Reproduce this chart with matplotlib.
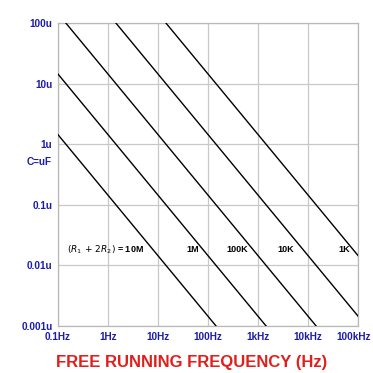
import matplotlib
matplotlib.use("Agg")
import matplotlib.pyplot as plt
import matplotlib.transforms as mtransforms

# Data: each line's endpoints (frequency Hz, capacitance uF)
series_labels = ["10M", "1M", "100K", "10K", "1K"]
freq_start = [0.1, 0.1, 0.144, 1.44, 14.4]
cap_start = [1.44, 14.4, 100.0, 100.0, 100.0]
freq_end = [144.0, 1440.0, 14400.0, 100000.0, 100000.0]
cap_end = [0.001, 0.001, 0.001, 0.00144, 0.0144]

x_ticks = [0.1, 1, 10, 100, 1e3, 1e4, 1e5]
x_ticklabels = ["0.1Hz", "1Hz", "10Hz", "100Hz", "1kHz", "10kHz", "100kHz"]
y_ticks = [0.001, 0.01, 0.1, 1, 10, 100]
y_ticklabels = ["0.001u", "0.01u", "0.1u", "1u", "10u", "100u"]

label_texts = [r"$(R_1\,+\,2R_2)$ = 10M", "1M", "100K", "10K", "1K"]
label_x = [0.9, 50, 390, 3600, 52000]

blue = "#1c1ca8"
red = "#e0201c"

fig = plt.figure(figsize=(3.73, 3.73), dpi=100)
ax = fig.add_axes([0.1555, 0.126, 0.805, 0.812])
ax.set_xscale("log")
ax.set_yscale("log")
ax.set_xlim(0.1, 1e5)
ax.set_ylim(0.001, 100)

for fs, cs, fe, ce in zip(freq_start, cap_start, freq_end, cap_end):
    ax.plot([fs, fe], [cs, ce], color="black", lw=1.0, zorder=3)

ax.set_xticks(x_ticks)
ax.set_xticklabels(x_ticklabels)
ax.set_yticks(y_ticks)
ax.set_yticklabels(y_ticklabels)
ax.minorticks_off()
ax.tick_params(length=0, pad=4)
for t in ax.get_xticklabels() + ax.get_yticklabels():
    t.set_color(blue)
    t.set_fontweight("bold")
    t.set_fontsize(7.2)
    t.set_family("Liberation Sans")

last = ax.get_xticklabels()[-1]
last.set_transform(last.get_transform() +
                   mtransforms.ScaledTranslation(-5 / 100, 0, fig.dpi_scale_trans))

ax.grid(True, color="#c8c8c8", lw=0.9)
for s in ax.spines.values():
    s.set_color("#b8b8b8")
    s.set_linewidth(0.9)

ax.text(-0.02, 0.54, "C=uF", transform=ax.transAxes, ha="right", va="center",
        color=blue, fontsize=7.2, fontweight="bold", family="Liberation Sans")

for txt, xv in zip(label_texts, label_x):
    ax.text(xv, 0.018, txt, ha="center", va="center", fontsize=6.5,
            fontweight="bold", color="black", family="Liberation Sans", zorder=4)

fig.text(0.515, 0.027, "FREE RUNNING FREQUENCY (Hz)", ha="center", va="center",
         color=red, fontsize=12, fontweight="bold", family="Liberation Sans")

fig.savefig("out.png", dpi=100, facecolor="white")
